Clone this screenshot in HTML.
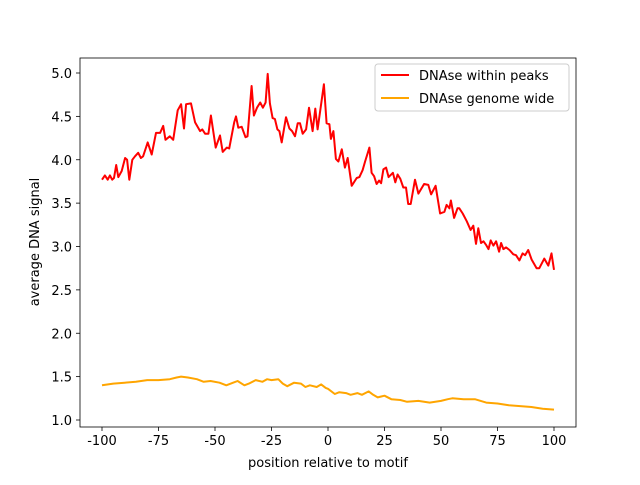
<!DOCTYPE html>
<html><head><meta charset="utf-8"><style>
body{margin:0;background:#fff}
svg{font-family:"DejaVu Sans","Liberation Sans",sans-serif}
</style></head><body>
<svg id="chart" width="640" height="480">
<rect width="640" height="480" fill="#fff"/>
<g id="marks"></g>
<rect x="80" y="58" width="496" height="369" fill="none" stroke="#000" stroke-width="0.8"/>
<g id="ticks"></g>
<text x="328" y="467" font-size="13" text-anchor="middle">position relative to motif</text>
<text transform="translate(39,242) rotate(-90)" font-size="13" text-anchor="middle">average DNA signal</text>
<g>
<rect x="375" y="64" width="194" height="47" rx="3" fill="#fff" stroke="#ccc" stroke-width="1"/>
<g><line x1="381" y1="75" x2="409" y2="75" stroke="red" stroke-width="2"/><text x="419" y="80" font-size="13">DNAse within peaks</text></g>
<g><line x1="381" y1="98" x2="409" y2="98" stroke="orange" stroke-width="2"/><text x="419" y="103" font-size="13">DNAse genome wide</text></g>
</g>
</svg>
<script>
const peakPos=[-100,-98.7,-97.5,-96.5,-95.5,-94.7,-93.7,-92.8,-91.3,-89.8,-88.9,-87.9,-86.6,-85.4,-84,-82.8,-81.8,-79.8,-78,-76.1,-74.3,-72.9,-71.9,-70,-68.5,-66.5,-65,-63.7,-62.8,-60.6,-58.8,-56.6,-55.6,-54.4,-52.9,-51.8,-49.7,-47.8,-46.6,-44.8,-43.7,-41.5,-40.7,-39.7,-38.2,-36.5,-35.6,-33.8,-32.8,-31.4,-30,-28.8,-27.6,-26.7,-25.7,-24.5,-23.5,-22.4,-21.5,-20.5,-18.6,-17.1,-15.9,-14.6,-13.4,-12.4,-11.2,-9.7,-8.4,-6.8,-5.6,-4.6,-1.8,-0.6,0.6,1.3,2.4,3.5,4.6,6.1,7.5,8.7,10.5,12.7,13.9,15.3,16.4,18.3,19.3,20.4,21.5,22.6,23.5,24.5,25.7,26.8,28.7,29.8,30.8,32,33.3,34.5,35.5,36.6,38.5,40,42.5,44.4,45.6,47.6,49.6,51.5,52.5,53.7,54.4,55.8,57.3,58.1,59.6,61.4,63.1,64.3,65.5,66.5,67.7,68.8,69.9,71,72,73.2,74.4,75.7,76.6,77.6,78.8,80.3,82,83.2,84.7,86.1,87.2,88.6,90.1,92.3,93.5,95.7,97.5,98.9,100];
const peakVal=[3.77,3.82,3.77,3.82,3.77,3.79,3.94,3.80,3.87,4.02,4.00,3.77,4.00,4.04,4.08,4.02,4.04,4.20,4.06,4.31,4.31,4.39,4.23,4.27,4.23,4.57,4.64,4.36,4.64,4.65,4.43,4.33,4.35,4.30,4.30,4.51,4.14,4.28,4.09,4.14,4.13,4.43,4.50,4.37,4.38,4.26,4.27,4.85,4.51,4.60,4.66,4.60,4.66,4.99,4.65,4.48,4.47,4.35,4.33,4.20,4.49,4.36,4.33,4.27,4.42,4.42,4.30,4.35,4.60,4.33,4.59,4.35,4.87,4.42,4.41,4.24,4.33,4.01,3.98,4.12,3.91,4.02,3.70,3.79,3.80,3.88,3.98,4.14,3.85,3.81,3.72,3.76,3.73,3.89,3.91,3.80,3.85,3.74,3.83,3.78,3.68,3.68,3.49,3.49,3.77,3.61,3.72,3.71,3.60,3.70,3.38,3.40,3.48,3.44,3.53,3.33,3.44,3.44,3.38,3.29,3.19,3.24,3.03,3.21,3.04,3.06,3.02,2.97,3.07,3.01,3.06,2.94,3.04,2.97,2.99,2.96,2.91,2.90,2.84,2.92,2.90,2.96,2.85,2.75,2.75,2.86,2.78,2.92,2.73];
const gwPos=[-100,-95,-90,-85,-80,-75,-70,-67,-65,-62,-58,-55,-52,-48,-45,-42,-40,-37,-35,-32,-29,-27,-25,-22,-20,-18,-15,-12,-10,-8,-5,-3,-1,0,3,5,8,10,13,15,18,20,22,25,28,32,35,40,45,50,53,55,60,65,70,75,80,85,90,95,100];
const gwVal=[1.40,1.42,1.43,1.44,1.46,1.46,1.47,1.49,1.50,1.49,1.47,1.44,1.45,1.43,1.40,1.43,1.45,1.40,1.42,1.46,1.44,1.47,1.46,1.47,1.42,1.39,1.43,1.42,1.38,1.40,1.38,1.41,1.37,1.36,1.30,1.32,1.31,1.29,1.31,1.29,1.33,1.29,1.26,1.28,1.24,1.23,1.21,1.22,1.20,1.22,1.24,1.25,1.24,1.24,1.20,1.19,1.17,1.16,1.15,1.13,1.12];
const xTicks=[-100,-75,-50,-25,0,25,50,75,100];
const yTicks=[1.0,1.5,2.0,2.5,3.0,3.5,4.0,4.5,5.0];
const X=v=>328+v*2.26;
const Y=v=>420-(v-1)*86.75;
const NS="http://www.w3.org/2000/svg";
const marks=document.getElementById('marks'),ticks=document.getElementById('ticks');
function line(pos,val,color,name){
  const p=document.createElementNS(NS,'path');
  p.setAttribute('d',pos.map((x,i)=>(i?'L':'M')+X(x).toFixed(1)+','+Y(val[i]).toFixed(1)).join(''));
  p.setAttribute('fill','none');p.setAttribute('stroke',color);p.setAttribute('stroke-width','2');p.setAttribute('stroke-linejoin','round');
  
  
  marks.appendChild(p);
}
line(peakPos,peakVal,'red','series-dnase-within-peaks');
line(gwPos,gwVal,'orange','series-dnase-genome-wide');
xTicks.forEach(t=>{
  const g=document.createElementNS(NS,'g');
  
  
  g.innerHTML=`<line x1="${X(t)}" y1="427" x2="${X(t)}" y2="431" stroke="#000" stroke-width="0.8"/><text x="${X(t)}" y="445" font-size="13" text-anchor="middle">${t}</text>`;
  ticks.appendChild(g);
});
yTicks.forEach(t=>{
  const g=document.createElementNS(NS,'g');
  
  
  g.innerHTML=`<line x1="76" y1="${Y(t)}" x2="80" y2="${Y(t)}" stroke="#000" stroke-width="0.8"/><text x="72" y="${Y(t)+5}" font-size="13" text-anchor="end">${t.toFixed(1)}</text>`;
  ticks.appendChild(g);
});
</script>
</body></html>
